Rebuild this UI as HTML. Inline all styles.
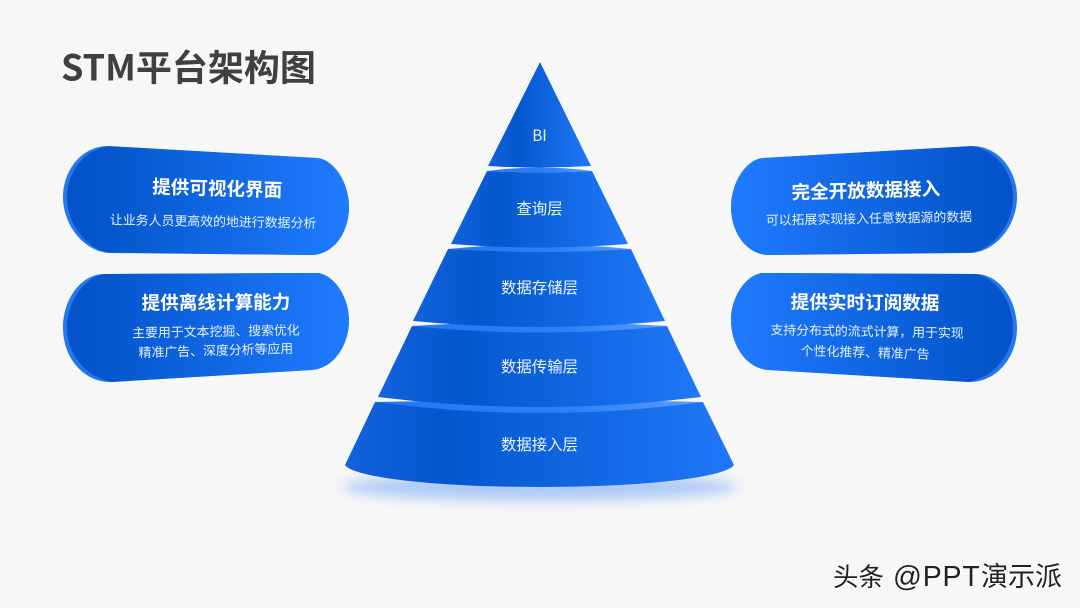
<!DOCTYPE html>
<html lang="zh">
<head>
<meta charset="utf-8">
<style>
html,body{margin:0;padding:0;background:#f7f7f7;width:1080px;height:608px;overflow:hidden}
svg{display:block;filter:blur(.3px)}
text{font-family:"Noto Sans CJK SC","Liberation Sans",sans-serif}
.t{font-size:18.6px;font-weight:700;fill:#fff;text-anchor:middle}
.s{font-size:12.9px;fill:#e6f0ff;text-anchor:middle}
.l{font-size:15.4px;fill:#eef4ff;text-anchor:middle}
.w{fill:#222}
.w2{fill:#fff}
.lat{font-family:"Liberation Sans",sans-serif}
</style>
</head>
<body>
<svg width="1080" height="608" viewBox="0 0 1080 608" xmlns="http://www.w3.org/2000/svg">
<defs>
<linearGradient id="g1" x1="488" x2="591" y1="0" y2="0" gradientUnits="userSpaceOnUse"><stop offset="0" stop-color="#1263dd"/><stop offset=".28" stop-color="#0457cd"/><stop offset="1" stop-color="#1f78f8"/></linearGradient>
<linearGradient id="g2" x1="451" x2="628" y1="0" y2="0" gradientUnits="userSpaceOnUse"><stop offset="0" stop-color="#1263dd"/><stop offset=".25" stop-color="#0457cd"/><stop offset="1" stop-color="#1f78f8"/></linearGradient>
<linearGradient id="g3" x1="413" x2="665" y1="0" y2="0" gradientUnits="userSpaceOnUse"><stop offset="0" stop-color="#1263dd"/><stop offset=".25" stop-color="#0457cd"/><stop offset="1" stop-color="#1f78f8"/></linearGradient>
<linearGradient id="g4" x1="378" x2="701" y1="0" y2="0" gradientUnits="userSpaceOnUse"><stop offset="0" stop-color="#1263dd"/><stop offset=".25" stop-color="#0457cd"/><stop offset="1" stop-color="#1f78f8"/></linearGradient>
<linearGradient id="g5" x1="345" x2="734" y1="0" y2="0" gradientUnits="userSpaceOnUse"><stop offset="0" stop-color="#1263dd"/><stop offset=".25" stop-color="#0457cd"/><stop offset="1" stop-color="#1f78f8"/></linearGradient>
<linearGradient id="st" x1="0" x2="1" y1="0" y2="0"><stop offset="0" stop-color="#2478f2"/><stop offset=".6" stop-color="#2e80f8"/><stop offset="1" stop-color="#5c9cff"/></linearGradient>
<linearGradient id="p" x1="63" x2="349" y1="0" y2="0" gradientUnits="userSpaceOnUse"><stop offset="0" stop-color="#0352c8"/><stop offset=".15" stop-color="#0556cc"/><stop offset="1" stop-color="#1f7bff"/></linearGradient>
<filter id="bl" x="-20%" y="-100%" width="140%" height="300%"><feGaussianBlur stdDeviation="6"/></filter>
<g id="pill1">
<path fill="#2478ee" d="M108,146 L317,158 C333,159 349,182 349,207 C349,233 333,255 311,255 L110,253 C84,252 63,225 63,197 C63,170 82,146 108,146Z"/>
<path fill="url(#p)" d="M110,146.2 L317,158 C333,159 349,182 349,207 C349,233 333,255 311,255 L108,252.5 C86,248 67,224 67,197 C67,171 86,148 110,146.2Z"/>
</g>
<g id="pill2">
<path fill="#2478ee" d="M103,274 L317,273 C333,274 349,296 349,320 C349,346 333,369 311,370 L110,382 C84,382 63,358 63,328 C63,300 80,275 103,274Z"/>
<path fill="url(#p)" d="M105,274 L317,273 C333,274 349,296 349,320 C349,346 333,369 311,370 L112,382 C88,378 67,356 67,328 C67,302 84,277 105,274Z"/>
</g>
</defs>

<text x="61" y="80.5" font-size="36" font-weight="700" fill="#404040">STM平台架构图</text>

<ellipse cx="540" cy="487" rx="198" ry="14" fill="#aecbf7" filter="url(#bl)"/>

<!-- layer 5 -->
<path fill="url(#g5)" d="M375,402 Q540,410 703,402 L734,465 C725,478 640,487 540,487 C440,487 354,478 345,465Z"/>
<path fill="url(#st)" d="M375,402 Q540,398 703,402 Q540,424 375,402Z"/>
<!-- layer 4 -->
<path fill="url(#g4)" d="M412,326 Q540,332 667,326 L701,397 Q540,417 378,397Z"/>
<path fill="url(#st)" d="M412,326 Q540,318 667,326 Q540,339 412,326Z"/>
<!-- layer 3 -->
<path fill="url(#g3)" d="M448,249 Q540,253 631,249 L665,321 Q540,333 413,321Z"/>
<path fill="url(#st)" d="M448,249 Q540,240 631,249 Q540,255 448,249Z"/>
<!-- layer 2 -->
<path fill="url(#g2)" d="M487,171 Q540,174 592,171 L628,244 Q540,251 451,244Z"/>
<path fill="url(#st)" d="M487,171 Q540,164 592,171 Q540,174 487,171Z"/>
<!-- layer 1 -->
<path fill="url(#g1)" d="M540,62 L591,166 Q540,169 488,166Z"/>

<text class="l" x="539.5" y="141">BI</text>
<text class="l" x="539.5" y="214">查询层</text>
<text class="l" x="539.5" y="293">数据存储层</text>
<text class="l" x="539.5" y="372">数据传输层</text>
<text class="l" x="539.5" y="450">数据接入层</text>

<use href="#pill1"/>
<use href="#pill2"/>
<use href="#pill1" transform="translate(1080,0) scale(-1,1)"/>
<use href="#pill2" transform="translate(1080,0) scale(-1,1)"/>

<text class="t" transform="translate(217,195) rotate(1.5)">提供可视化界面</text>
<text class="s" transform="translate(213,226) rotate(1)">让业务人员更高效的地进行数据分析</text>
<text class="t" transform="translate(216,309) rotate(-.4)">提供离线计算能力</text>
<text class="s" transform="translate(216,336) rotate(-1)">主要用于文本挖掘、搜索优化</text>
<text class="s" transform="translate(216,355) rotate(-1.6)">精准广告、深度分析等应用</text>

<text class="t" transform="translate(866,197) rotate(-1.5)">完全开放数据接入</text>
<text class="s" transform="translate(869,223) rotate(-1)">可以拓展实现接入任意数据源的数据</text>
<text class="t" transform="translate(865,309) rotate(.4)">提供实时订阅数据</text>
<text class="s" transform="translate(867,336) rotate(1)">支持分布式的流式计算，用于实现</text>
<text class="s" transform="translate(865,357) rotate(1.6)">个性化推荐、精准广告</text>

<g transform="translate(1,1)">
<text class="w2" x="833" y="586" font-size="25.5">头条</text>
<text class="w2 lat" x="893" y="586" font-size="28.5" letter-spacing=".8">@PPT</text>
<text class="w2" x="981" y="586" font-size="27">演示派</text>
</g>
<text class="w" x="833" y="586" font-size="25.5">头条</text>
<text class="w lat" x="893" y="586" font-size="28.5" letter-spacing=".8">@PPT</text>
<text class="w" x="981" y="586" font-size="27">演示派</text>
</svg>
</body>
</html>
